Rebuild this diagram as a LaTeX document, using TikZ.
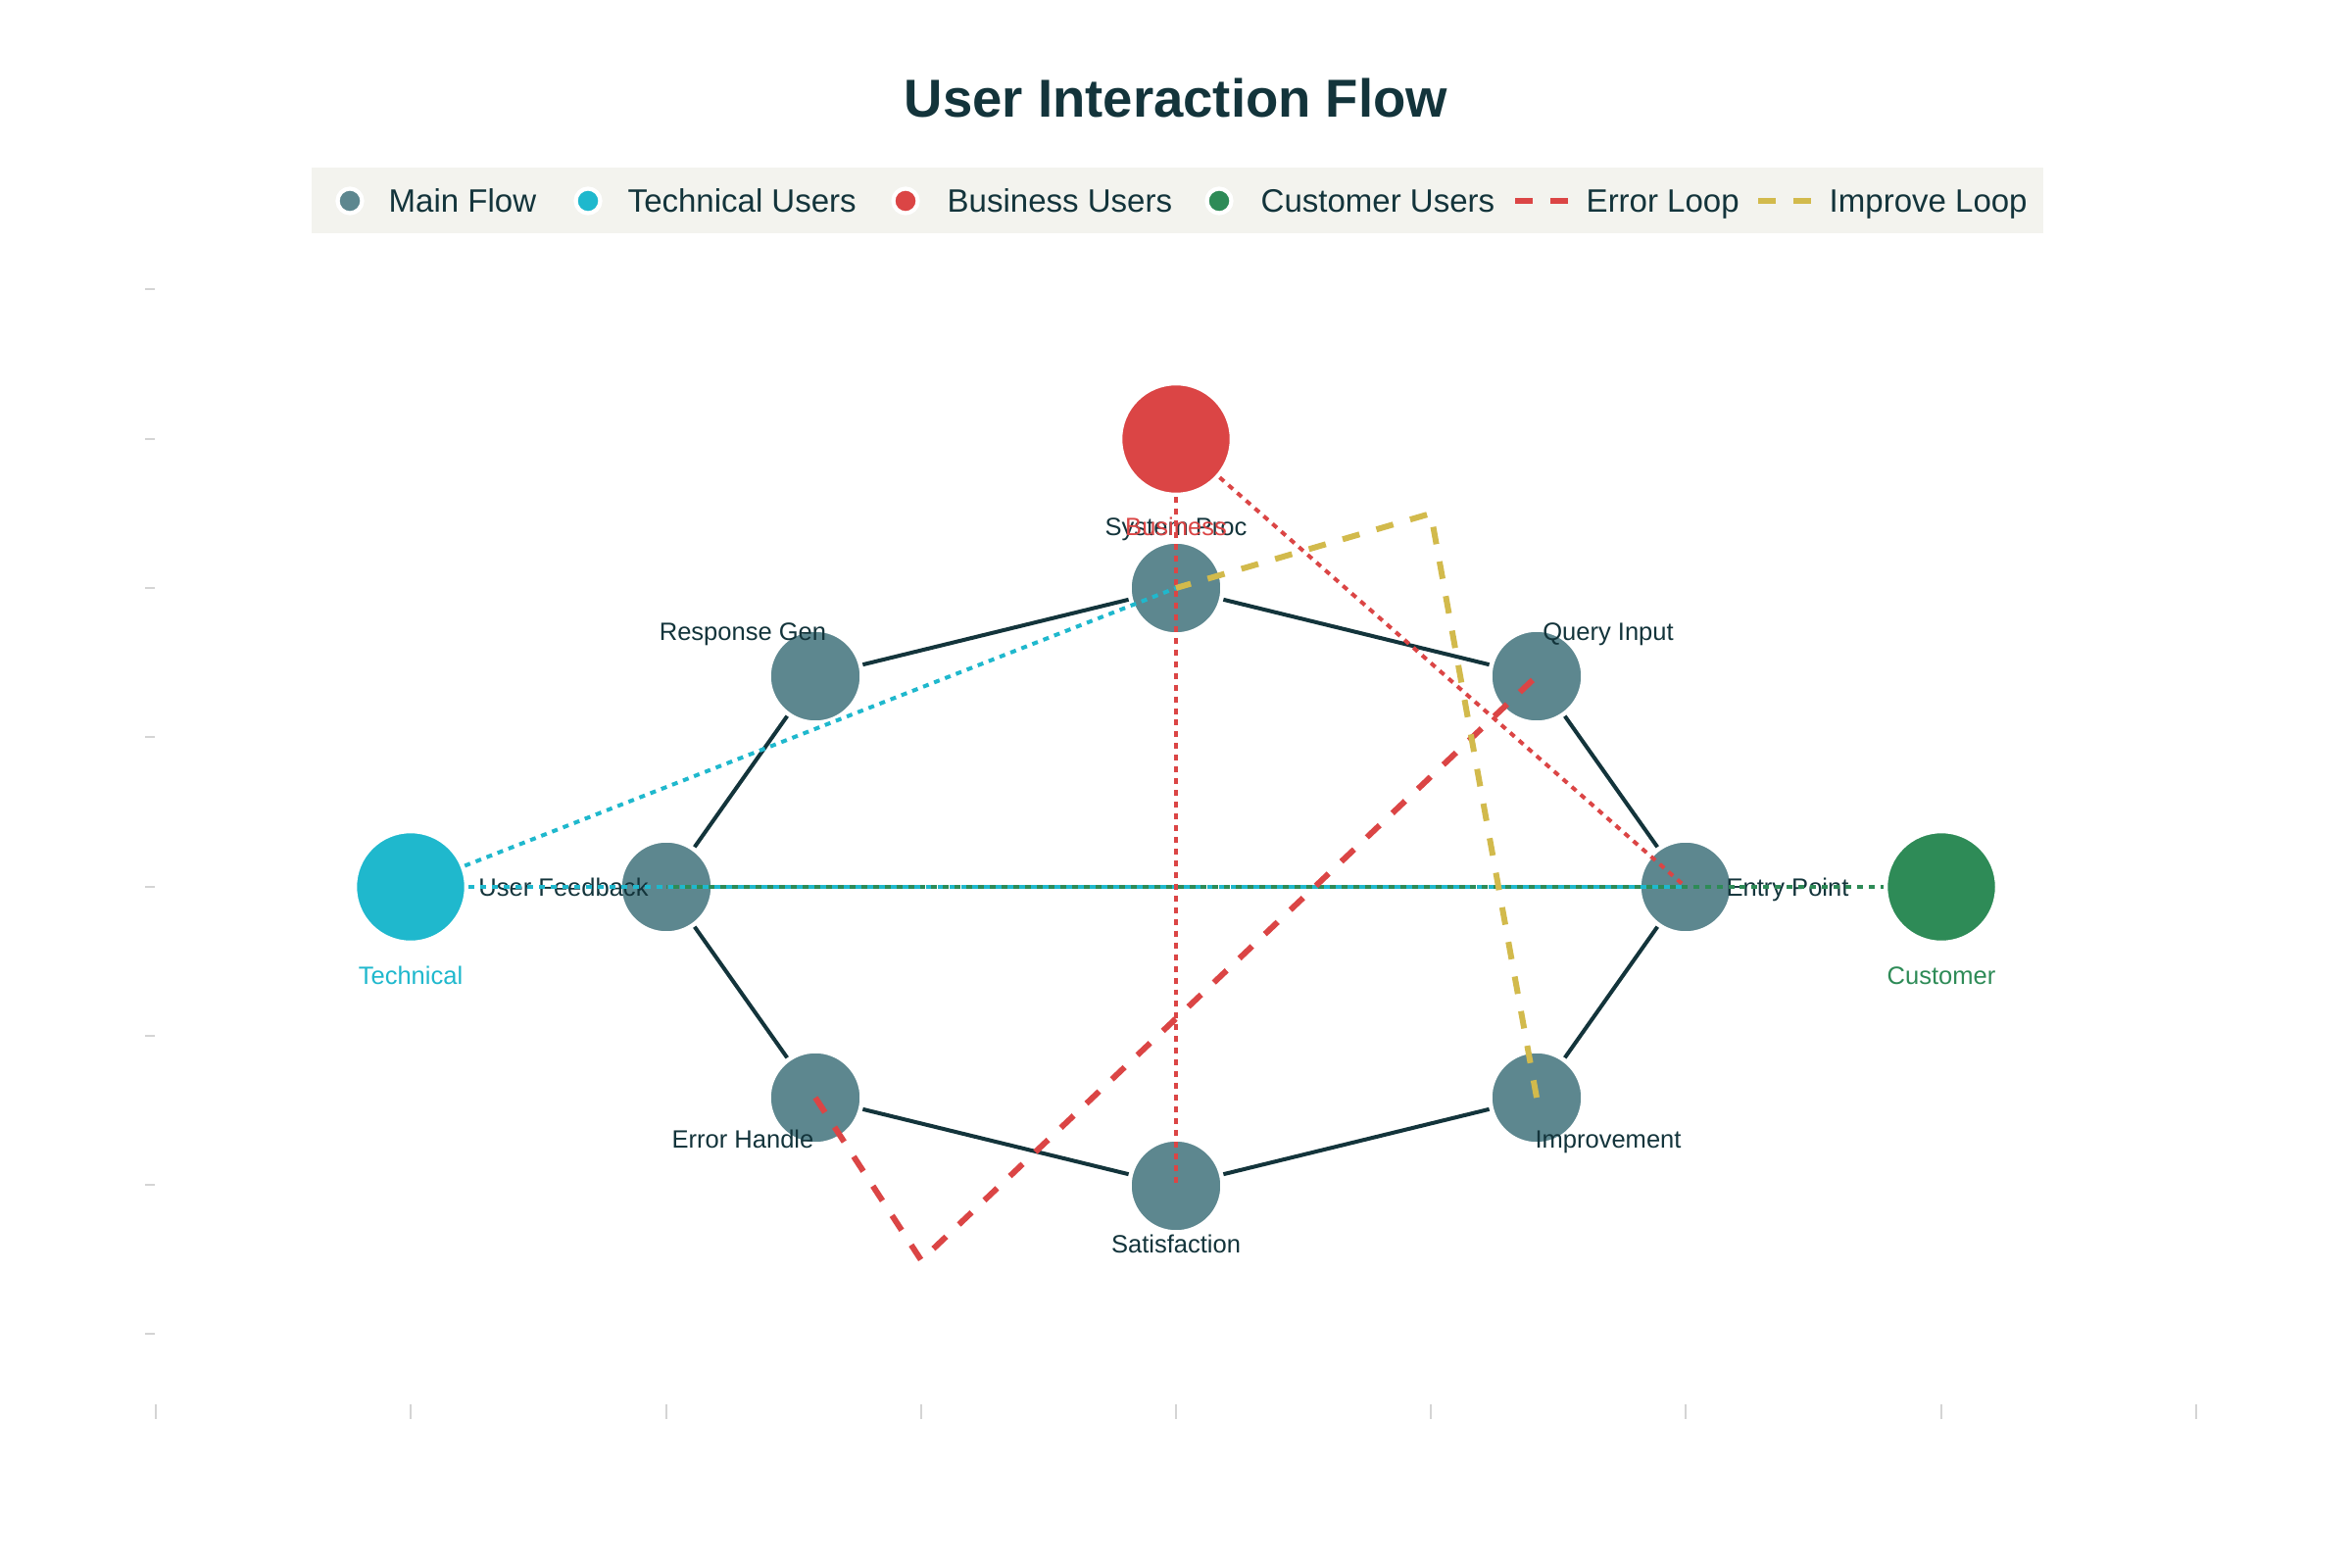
\documentclass[tikz,border=0pt]{standalone}
\usepackage{fontspec}
\setmainfont{Liberation Sans}
\definecolor{mainc}{HTML}{5D878F}
\definecolor{techc}{HTML}{1FB8CD}
\definecolor{busc}{HTML}{DB4545}
\definecolor{custc}{HTML}{2E8B57}
\definecolor{yelc}{HTML}{D2BA4C}
\definecolor{darkc}{HTML}{13343B}
\definecolor{legbg}{HTML}{F3F3EE}
\definecolor{tickc}{HTML}{D4D4D4}
\begin{document}
\begin{tikzpicture}[x=0.01cm,y=-0.01cm,
  mainline/.style={draw=darkc, line width=1.14pt},
  dotline/.style={line width=1.14pt, dash pattern=on 1.7pt off 1.7pt},
  dashline/.style={line width=1.7pt, dash pattern=on 5.1pt off 5.1pt},
  mnode/.style={circle, fill=mainc, draw=white, line width=1.3pt, minimum size=0.95cm, inner sep=0pt},
  bignode/.style={circle, draw=white, line width=1.3pt, minimum size=1.14cm, inner sep=0pt},
  lbl/.style={font=\fontsize{7.26}{8.5}\selectfont, text=darkc, anchor=base, inner sep=0pt},
  leglbl/.style={font=\fontsize{9.39}{11}\selectfont, text=darkc, anchor=base west, inner sep=0pt},
  legdot/.style={circle, draw=white, line width=1.2pt, minimum size=0.25cm, inner sep=0pt},
  tick/.style={draw=tickc, line width=0.4pt}]
\useasboundingbox (0,0) rectangle (2400,1600);
\fill[white] (0,0) rectangle (2400,1600);
% title
\node[font=\bfseries\fontsize{15.5}{18}\selectfont, text=darkc, anchor=base, inner sep=0pt] (title) at (1200,120) {User Interaction Flow};
% legend
\node[fill=legbg, minimum width=17.66cm, minimum height=0.67cm, inner sep=0pt, anchor=north west] (legend) at (317,170) {};
\node[legdot, fill=mainc] (lg1) at (357,205) {};
\node[leglbl] (lt1) at (396,217) {Main Flow};
\node[legdot, fill=techc] (lg2) at (600,205) {};
\node[leglbl] (lt2) at (640,217) {Technical Users};
\node[legdot, fill=busc] (lg3) at (924,205) {};
\node[leglbl] (lt3) at (966,217) {Business Users};
\node[legdot, fill=custc] (lg4) at (1244,205) {};
\node[leglbl] (lt4) at (1286,217) {Customer Users};
\coordinate (le1a) at (1546,205);
\coordinate (le1b) at (1600,205);
\draw[dashline, draw=busc] (le1a) -- (le1b);
\node[leglbl] (lt5) at (1618,217) {Error Loop};
\coordinate (le2a) at (1794,205);
\coordinate (le2b) at (1848,205);
\draw[dashline, draw=yelc] (le2a) -- (le2b);
\node[leglbl] (lt6) at (1866,217) {Improve Loop};
% ticks
\foreach \yy in {295,448,600,752,905,1057,1209,1361} \draw[tick] (148,\yy) -- (158,\yy);
\foreach \xx in {159,419,680,940,1200,1460,1720,1981,2241} \draw[tick] (\xx,1433) -- (\xx,1448);
% main flow markers
\node[mnode] (sys) at (1200,600) {};
\node[mnode] (qry) at (1568,690) {};
\node[mnode] (ent) at (1720,905) {};
\node[mnode] (imp) at (1568,1120) {};
\node[mnode] (sat) at (1200,1210) {};
\node[mnode] (err) at (832,1120) {};
\node[mnode] (fb) at (680,905) {};
\node[mnode] (rsp) at (832,690) {};
\draw[mainline] (ent) -- (qry) -- (sys) -- (rsp) -- (fb) -- (err) -- (sat) -- (imp) -- (ent);
\node[lbl] (lsys) at (1200,546) {System Proc};
\node[lbl] (lqry) at (1641,653) {Query Input};
\node[lbl] (lent) at (1824,914) {Entry Point};
\node[lbl] (limp) at (1641,1171) {Improvement};
\node[lbl] (lsat) at (1200,1278) {Satisfaction};
\node[lbl] (lerr) at (758,1171) {Error Handle};
\node[lbl] (lfb) at (575,914) {User Feedback};
\node[lbl] (lrsp) at (758,653) {Response Gen};
% technical
\node[bignode, fill=techc] (tech) at (419,905) {};
\draw[dotline, draw=techc] (tech) -- (sys.center);
\draw[dotline, draw=techc] (tech) -- (ent.center);
\node[lbl, text=techc] (ltech) at (419,1004) {Technical};
% business
\node[bignode, fill=busc] (bus) at (1200,448) {};
\draw[dotline, draw=busc] (bus) -- (sat.center);
\draw[dotline, draw=busc] (bus) -- (ent.center);
\node[lbl, text=busc] (lbus) at (1200,546) {Business};
% customer
\node[bignode, fill=custc] (cust) at (1981,905) {};
\draw[dotline, draw=custc, dash phase=1.29pt] (fb.center) -- (cust);
\node[lbl, text=custc] (lcust) at (1981,1004) {Customer};
% error loop
\coordinate (errc) at (940,1286);
\draw[dashline, draw=busc] (err.center) -- (errc) -- (qry.center);
% improve loop
\coordinate (impc) at (1460,524);
\draw[dashline, draw=yelc] (imp.center) -- (impc) -- (sys.center);
\end{tikzpicture}
\end{document}
